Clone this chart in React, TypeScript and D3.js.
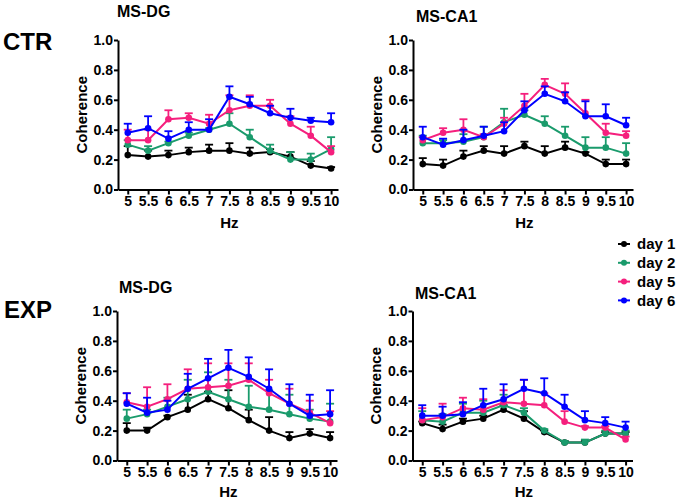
import React, { useRef, useEffect } from 'react';
import * as d3 from 'd3';

// frequencies on the x axis
const hz = [5, 5.5, 6, 6.5, 7, 7.5, 8, 8.5, 9, 9.5, 10];
const hzLabels = ['5', '5.5', '6', '6.5', '7', '7.5', '8', '8.5', '9', '9.5', '10'];
const yTicks = [0, 0.2, 0.4, 0.6, 0.8, 1.0];
const days = ['day 1', 'day 2', 'day 5', 'day 6'];
const dayColors = ['#000000', '#1a9b6c', '#f51f7d', '#0000ff'];

// CTR / MS-DG  (mean, sem)
const ctrDgDay1 = [0.23, 0.22, 0.23, 0.25, 0.26, 0.26, 0.24, 0.25, 0.22, 0.16, 0.14];
const ctrDgDay1Sem = [0.06, 0.04, 0.03, 0.03, 0.04, 0.05, 0.04, 0.02, 0.03, 0.03, 0.01];
const ctrDgDay2 = [0.30, 0.26, 0.31, 0.36, 0.40, 0.44, 0.35, 0.26, 0.20, 0.20, 0.27];
const ctrDgDay2Sem = [0.03, 0.03, 0.01, 0.02, 0.01, 0.07, 0.05, 0.04, 0.05, 0.04, 0.08];
const ctrDgDay5 = [0.33, 0.33, 0.47, 0.48, 0.44, 0.53, 0.56, 0.56, 0.44, 0.36, 0.25];
const ctrDgDay5Sem = [0.07, 0.07, 0.06, 0.03, 0.06, 0.10, 0.07, 0.04, 0.05, 0.06, 0.04];
const ctrDgDay6 = [0.38, 0.41, 0.34, 0.40, 0.40, 0.62, 0.57, 0.51, 0.48, 0.46, 0.45];
const ctrDgDay6Sem = [0.06, 0.08, 0.05, 0.05, 0.07, 0.07, 0.05, 0.05, 0.06, 0.02, 0.06];

// CTR / MS-CA1
const ctrCa1Day1 = [0.17, 0.16, 0.22, 0.26, 0.24, 0.29, 0.24, 0.28, 0.24, 0.17, 0.17];
const ctrCa1Day1Sem = [0.04, 0.04, 0.04, 0.03, 0.05, 0.03, 0.05, 0.04, 0.01, 0.03, 0.03];
const ctrCa1Day2 = [0.31, 0.31, 0.32, 0.35, 0.45, 0.50, 0.44, 0.36, 0.28, 0.28, 0.24];
const ctrCa1Day2Sem = [0.05, 0.02, 0.05, 0.07, 0.09, 0.03, 0.05, 0.06, 0.07, 0.07, 0.07];
const ctrCa1Day5 = [0.33, 0.38, 0.40, 0.35, 0.44, 0.56, 0.70, 0.64, 0.51, 0.38, 0.36];
const ctrCa1Day5Sem = [0.02, 0.03, 0.07, 0.02, 0.04, 0.08, 0.04, 0.07, 0.09, 0.06, 0.03];
const ctrCa1Day6 = [0.35, 0.30, 0.33, 0.36, 0.39, 0.53, 0.64, 0.59, 0.49, 0.49, 0.43];
const ctrCa1Day6Sem = [0.07, 0.04, 0.07, 0.06, 0.06, 0.06, 0.05, 0.06, 0.10, 0.08, 0.05];

// EXP / MS-DG
const expDgDay1 = [0.20, 0.20, 0.29, 0.34, 0.41, 0.35, 0.27, 0.20, 0.15, 0.18, 0.15];
const expDgDay1Sem = [0.05, 0.02, 0.01, 0.10, 0.05, 0.12, 0.07, 0.09, 0.04, 0.03, 0.04];
const expDgDay2 = [0.28, 0.31, 0.36, 0.41, 0.46, 0.41, 0.36, 0.34, 0.31, 0.28, 0.26];
const expDgDay2Sem = [0.06, 0.03, 0.06, 0.13, 0.13, 0.13, 0.14, 0.13, 0.13, 0.06, 0.12];
const expDgDay5 = [0.39, 0.36, 0.41, 0.48, 0.49, 0.50, 0.54, 0.45, 0.38, 0.32, 0.25];
const expDgDay5Sem = [0.06, 0.13, 0.10, 0.13, 0.16, 0.15, 0.11, 0.09, 0.10, 0.08, 0.08];
const expDgDay6 = [0.38, 0.32, 0.34, 0.48, 0.55, 0.62, 0.56, 0.48, 0.38, 0.30, 0.31];
const expDgDay6Sem = [0.07, 0.10, 0.06, 0.10, 0.13, 0.12, 0.13, 0.13, 0.13, 0.14, 0.16];

// EXP / MS-CA1
const expCa1Day1 = [0.25, 0.21, 0.26, 0.28, 0.34, 0.28, 0.19, 0.12, 0.12, 0.18, 0.18];
const expCa1Day1Sem = [0.01, 0.03, 0.02, 0.02, 0.03, 0.05, 0.01, 0.01, 0.01, 0.01, 0.01];
const expCa1Day2 = [0.27, 0.26, 0.32, 0.32, 0.37, 0.32, 0.20, 0.12, 0.12, 0.18, 0.18];
const expCa1Day2Sem = [0.06, 0.05, 0.06, 0.08, 0.07, 0.03, 0.01, 0.01, 0.02, 0.02, 0.02];
const expCa1Day5 = [0.27, 0.29, 0.35, 0.34, 0.39, 0.38, 0.37, 0.26, 0.22, 0.22, 0.14];
const expCa1Day5Sem = [0.08, 0.09, 0.07, 0.07, 0.08, 0.16, 0.08, 0.07, 0.01, 0.01, 0.02];
const expCa1Day6 = [0.30, 0.30, 0.31, 0.37, 0.41, 0.48, 0.45, 0.36, 0.27, 0.25, 0.22];
const expCa1Day6Sem = [0.07, 0.06, 0.08, 0.11, 0.10, 0.06, 0.10, 0.08, 0.06, 0.04, 0.04];

const panels = [
  {
    title: 'MS-DG', ax: 118, top: 40, titleX: 117, titleY: 17, hzOffset: 38,
    means: [ctrDgDay1, ctrDgDay2, ctrDgDay5, ctrDgDay6],
    sems: [ctrDgDay1Sem, ctrDgDay2Sem, ctrDgDay5Sem, ctrDgDay6Sem],
  },
  {
    title: 'MS-CA1', ax: 413, top: 40, titleX: 416, titleY: 22, hzOffset: 38,
    means: [ctrCa1Day1, ctrCa1Day2, ctrCa1Day5, ctrCa1Day6],
    sems: [ctrCa1Day1Sem, ctrCa1Day2Sem, ctrCa1Day5Sem, ctrCa1Day6Sem],
  },
  {
    title: 'MS-DG', ax: 117, top: 311, titleX: 119, titleY: 293, hzOffset: 36,
    means: [expDgDay1, expDgDay2, expDgDay5, expDgDay6],
    sems: [expDgDay1Sem, expDgDay2Sem, expDgDay5Sem, expDgDay6Sem],
  },
  {
    title: 'MS-CA1', ax: 412.5, top: 311, titleX: 415, titleY: 299, hzOffset: 36,
    means: [expCa1Day1, expCa1Day2, expCa1Day5, expCa1Day6],
    sems: [expCa1Day1Sem, expCa1Day2Sem, expCa1Day5Sem, expCa1Day6Sem],
  },
];

const FONT = '"Liberation Sans", Arial, sans-serif';

const App: React.FC = () => {
  const svgRef = useRef<SVGSVGElement>(null);
  const width = 680;
  const height = 499;

  useEffect(() => {
    if (!svgRef.current) return;
    const svg = d3.select(svgRef.current);
    svg.selectAll('*').remove();

    const innerW = 220;
    const innerH = 149.5;

    const xScale = d3.scaleLinear().domain([4.76, 10.17]).range([0, innerW]);
    const yScale = d3.scaleLinear().domain([0, 1]).range([innerH, 0]);

    // group labels
    svg.append('text').attr('x', 3).attr('y', 50).text('CTR')
      .style('font-family', FONT).style('font-weight', 'bold').style('font-size', '24px');
    svg.append('text').attr('x', 4).attr('y', 318).text('EXP')
      .style('font-family', FONT).style('font-weight', 'bold').style('font-size', '24px');

    panels.forEach((p) => {
      svg.append('text')
        .attr('x', p.titleX).attr('y', p.titleY)
        .style('font-family', FONT).style('font-weight', 'bold').style('font-size', '16px')
        .text(p.title);

      const g = svg.append('g').attr('transform', `translate(${p.ax},${p.top})`);

      // x axis
      const xAxis = g.append('g')
        .attr('transform', `translate(0,${innerH})`)
        .call(d3.axisBottom(xScale)
          .tickValues(hz)
          .tickFormat((_d, i) => hzLabels[i])
          .tickSize(5)
          .tickSizeOuter(0)
          .tickPadding(2));
      // y axis
      const yAxis = g.append('g')
        .call(d3.axisLeft(yScale)
          .tickValues(yTicks)
          .tickFormat(d3.format('.1f'))
          .tickSize(4)
          .tickSizeOuter(0)
          .tickPadding(1));

      [xAxis, yAxis].forEach((a) => {
        a.select('.domain').attr('stroke', '#000').attr('stroke-width', 2);
        a.selectAll('.tick line').attr('stroke', '#000').attr('stroke-width', 2);
        a.selectAll('.tick text')
          .style('font-family', FONT)
          .style('font-weight', 'bold')
          .style('font-size', '14px')
          .style('fill', '#000');
      });

      // axis titles
      g.append('text')
        .attr('x', xScale(7.5)).attr('y', innerH + p.hzOffset)
        .attr('text-anchor', 'middle')
        .style('font-family', FONT).style('font-weight', 'bold').style('font-size', '15px')
        .text('Hz');
      g.append('text')
        .attr('transform', `translate(-36.5,${innerH / 2}) rotate(-90)`)
        .attr('dy', '0.35em')
        .attr('text-anchor', 'middle')
        .style('font-family', FONT).style('font-weight', 'bold').style('font-size', '15px')
        .text('Coherence');

      const line = d3.line<number>()
        .x((_d, i) => xScale(hz[i]))
        .y((d) => yScale(d));

      p.means.forEach((series, s) => {
        const color = dayColors[s];
        const sem = p.sems[s];
        const sg = g.append('g');

        // error bars (upper SEM only)
        series.forEach((m, i) => {
          const cx = xScale(hz[i]);
          sg.append('line')
            .attr('x1', cx).attr('x2', cx)
            .attr('y1', yScale(m)).attr('y2', yScale(m + sem[i]))
            .attr('stroke', color).attr('stroke-width', 1.8);
          sg.append('line')
            .attr('x1', cx - 4).attr('x2', cx + 4)
            .attr('y1', yScale(m + sem[i])).attr('y2', yScale(m + sem[i]))
            .attr('stroke', color).attr('stroke-width', 1.8);
        });

        sg.append('path')
          .datum(series)
          .attr('fill', 'none')
          .attr('stroke', color)
          .attr('stroke-width', 2)
          .attr('d', line);

        sg.selectAll('circle')
          .data(series)
          .enter()
          .append('circle')
          .attr('cx', (_d, i) => xScale(hz[i]))
          .attr('cy', (d) => yScale(d))
          .attr('r', 3.3)
          .attr('fill', color);
      });
    });

    // legend
    const legend = svg.selectAll('.legend')
      .data(days)
      .enter().append('g')
      .attr('class', 'legend')
      .attr('transform', (_d, i) => `translate(618, ${244 + i * 18.8})`);

    legend.append('line')
      .attr('x1', 0).attr('x2', 12)
      .attr('stroke', (_d, i) => dayColors[i])
      .attr('stroke-width', 2);
    legend.append('circle')
      .attr('cx', 6).attr('r', 3)
      .attr('fill', (_d, i) => dayColors[i]);
    legend.append('text')
      .attr('x', 19)
      .attr('dy', '0.35em')
      .style('font-family', FONT).style('font-weight', 'bold').style('font-size', '15px')
      .text((d) => d);
  }, []);

  return (
    <svg
      ref={svgRef}
      width={width}
      height={height}
      style={{ position: 'absolute', left: 0, top: 0, background: '#fff' }}
    ></svg>
  );
};

export default App;
